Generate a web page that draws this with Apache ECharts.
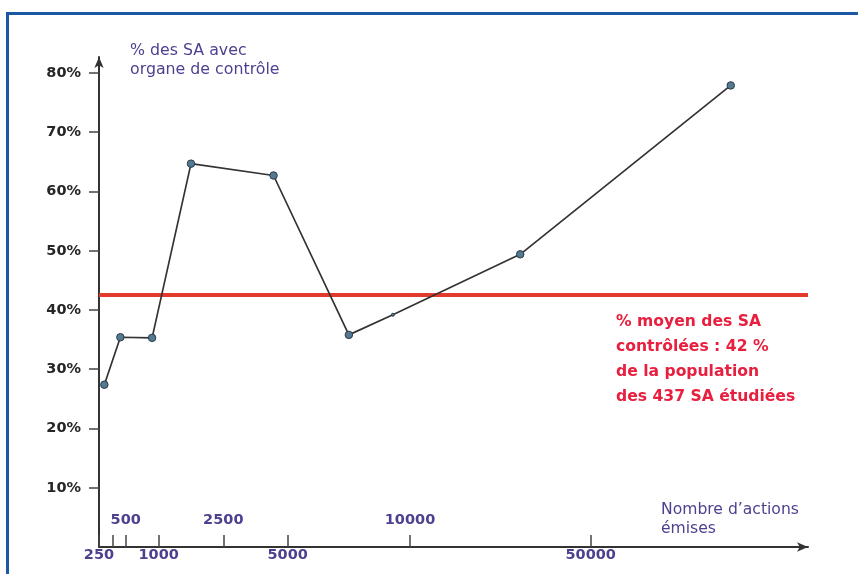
<!DOCTYPE html>
<html>
<head>
<meta charset="utf-8">
<script src="https://cdn.jsdelivr.net/npm/echarts@6/dist/echarts.min.js"></script>
<style>
html,body{margin:0;padding:0;background:#ffffff;}
#c{width:858px;height:574px;}
</style>
</head>
<body>
<div id="c"></div>
<script>
// ---- data ----
const actions = [300, 450, 900, 1750, 4450, 7500, 9300, 34400, 81000];   // nombre d'actions émises
const pctControle = [27.4, 35.4, 35.3, 64.7, 62.7, 35.8, 39.2, 49.4, 77.9]; // % des SA avec organe de contrôle
const moyenne = 42.5;
const xTickValues = [250, 375, 500, 1000, 2500, 5000, 10000, 50000];
const xLabelsBelow = [250, 1000, 5000, 50000];
const xLabelsAbove = [500, 2500, 10000];
const yTicks = [10, 20, 30, 40, 50, 60, 70, 80];

// ---- the hand-drawn (non-uniform) x scale of the original figure ----
const scaleValues = [250, 500, 1000, 2500, 5000, 10000, 50000];
const scaleStops  = [0, 26.7, 59.7, 124.3, 188.7, 311, 491.7];
const scaleEnd = 709;
function pos(v) {
  const n = scaleValues.length;
  let i = 0;
  while (i < n - 2 && v > scaleValues[i + 1]) i++;
  const v0 = scaleValues[i], v1 = scaleValues[i + 1];
  const p0 = scaleStops[i], p1 = scaleStops[i + 1];
  return p0 + (v - v0) / (v1 - v0) * (p1 - p0);
}
function labelFor(p) {
  let best = null, d = Infinity;
  scaleValues.forEach(v => { const dd = Math.abs(pos(v) - p); if (dd < d) { d = dd; best = v; } });
  return String(best);
}

const purple = '#4e3f8f';
const font = 'DejaVu Sans';

const chart = echarts.init(document.getElementById('c'), null, {renderer: 'canvas'});
chart.setOption({
  backgroundColor: '#ffffff',
  animation: false,
  title: [
    {
      text: '% des SA avec\norgane de contrôle',
      left: 130, top: 41, padding: 0,
      textStyle: {fontFamily: font, fontSize: 15.8, fontWeight: 'normal', color: purple, lineHeight: 19}
    },
    {
      text: 'Nombre d\u2019actions\némises',
      left: 661, top: 500, padding: 0,
      textStyle: {fontFamily: font, fontSize: 15.6, fontWeight: 'normal', color: purple, lineHeight: 19}
    },
    {
      text: '% moyen des SA\ncontrôlées : 42 %\nde la population\ndes 437 SA étudiées',
      left: 616, top: 309, padding: 0,
      textStyle: {fontFamily: font, fontSize: 15.6, fontWeight: 'bold', color: '#e8203f', lineHeight: 25}
    }
  ],
  graphic: [{
    type: 'polyline',
    shape: {points: [[7.5, 600], [7.5, 13.5], [870, 13.5]]},
    style: {stroke: '#1b5aa2', lineWidth: 3, fill: null},
    silent: true
  }],
  grid: {left: 99, right: 50, top: 57, bottom: 27},
  xAxis: [
    {
      type: 'value', min: 0, max: scaleEnd, position: 'bottom',
      axisLine: {show: true, lineStyle: {color: '#333', width: 2}, symbol: ['none', 'arrow'], symbolSize: [7, 11]},
      axisTick: {show: true, inside: true, length: 12, customValues: xTickValues.map(pos), lineStyle: {color: '#444', width: 1.5}},
      axisLabel: {
        show: true, customValues: xLabelsBelow.map(pos), margin: 1,
        formatter: v => labelFor(v),
        fontFamily: font, fontSize: 14.5, fontWeight: 'bold', color: purple
      },
      splitLine: {show: false}
    },
    {
      type: 'value', min: 0, max: scaleEnd, position: 'bottom',
      axisLine: {show: false}, axisTick: {show: false}, splitLine: {show: false},
      axisLabel: {
        show: true, inside: true, customValues: xLabelsAbove.map(pos), margin: 19,
        formatter: v => labelFor(v),
        fontFamily: font, fontSize: 14.5, fontWeight: 'bold', color: purple
      }
    }
  ],
  yAxis: {
    type: 'value', min: 0, max: 82.7,
    axisLine: {show: true, lineStyle: {color: '#333', width: 2}, symbol: ['none', 'arrow'], symbolSize: [7, 11]},
    axisTick: {show: true, inside: false, length: 10, customValues: yTicks, lineStyle: {color: '#444', width: 1.5}},
    axisLabel: {
      show: true, customValues: yTicks, margin: 18,
      formatter: '{value}%',
      fontFamily: font, fontSize: 14.5, fontWeight: 'bold', color: '#262626'
    },
    splitLine: {show: false}
  },
  series: [{
    type: 'line',
    xAxisIndex: 0,
    data: actions.map((a, i) => [pos(a), pctControle[i]]),
    symbol: 'circle',
    symbolSize: (val, p) => (p.dataIndex === 6 ? 3 : 7.5),
    lineStyle: {color: '#373232', width: 1.7},
    itemStyle: {color: '#527a92', borderColor: '#2d3b46', borderWidth: 1},
    z: 3,
    markLine: {
      silent: true,
      symbol: ['none', 'none'],
      label: {show: false},
      lineStyle: {color: '#e23b2e', width: 4, type: 'solid'},
      data: [{yAxis: moyenne}],
      z: 2
    }
  }]
});
</script>
</body>
</html>
